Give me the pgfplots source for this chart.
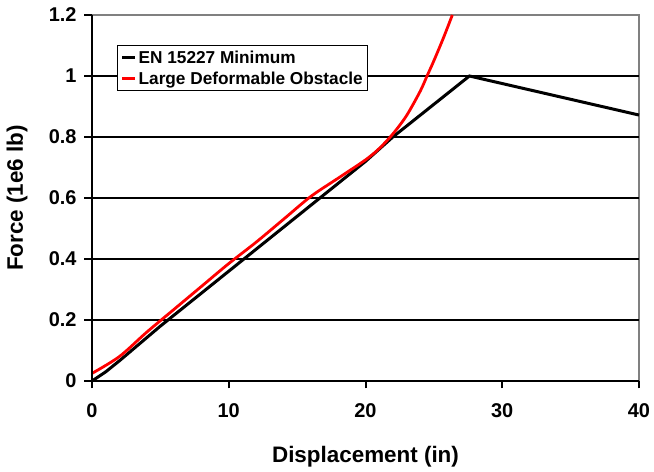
\documentclass[border=0pt]{standalone}
\usepackage{fontspec}
\setmainfont{Liberation Sans}
\usepackage{pgfplots}
\pgfplotsset{compat=1.18}
\begin{document}
\begin{tikzpicture}
\begin{axis}[
  scale only axis,
  width=547bp, height=366bp,
  xmin=0, xmax=40, ymin=0, ymax=1.2,
  xtick={0,10,20,30,40},
  ytick={0,0.2,0.4,0.6,0.8,1,1.2},
  yticklabels={0,0.2,0.4,0.6,0.8,1,1.2},
  xtick pos=bottom, ytick pos=left,
  major tick length=0pt,
  tick style={draw=none},
  axis line style={draw=gray, line width=1.3bp},
  /pgf/number format/assume math mode=true,
  ticklabel style={font=\bfseries\fontsize{20}{20}\selectfont},
  yticklabel style={xshift=-12bp},
  xticklabel style={yshift=-19bp},
  every axis x label/.style={at={(axis description cs:0.5,-0.2077)}, anchor=center},
  every axis y label/.style={at={(axis description cs:-0.1371,0.5)}, anchor=center, rotate=90},
  label style={font=\bfseries\fontsize{22.5}{22.5}\selectfont},
  xlabel={Displacement (in)},
  ylabel={Force (1e6 lb)},
  legend style={at={(axis description cs:0.0457,0.918)}, anchor=north west,
    draw=black, line width=1.3bp, fill=white,
    font=\bfseries\fontsize{17.3}{17.3}\selectfont,
    row sep=3bp, inner xsep=3bp, inner ysep=3bp},
  legend cell align=left,
  legend image code/.code={\draw[#1] (0bp,0bp) -- (13bp,0bp);},
  clip=false,
]
\foreach \g in {0.2,0.4,0.6,0.8,1.0} {
  \edef\tmp{\noexpand\draw[black, line width=1.6bp] (axis cs:0,\g) -- (axis cs:40,\g);}
  \tmp
}
\foreach \g in {0,0.2,0.4,0.6,0.8,1.0,1.2} {
  \edef\tmp{\noexpand\draw[black, line width=2bp] (axis cs:-0.55,\g) -- (axis cs:0,\g);}
  \tmp
}
\foreach \g in {0,10,20,30,40} {
  \edef\tmp{\noexpand\draw[black, line width=2bp] (axis cs:\g,-0.024) -- (axis cs:\g,0);}
  \tmp
}
\addplot[black, line width=3bp] coordinates {
 (0,0) (1,0.03) (2,0.066) (5,0.18) (10,0.36) (15,0.54) (20,0.72) (22,0.80) (27.6,1.0) (40,0.872)
};
\addlegendentry{EN 15227 Minimum}
\addplot[red, line width=2.8bp, smooth] coordinates {
 (0,0.025) (2,0.08) (4,0.16) (6,0.235) (8,0.31) (10,0.385) (12,0.455) (14,0.53) (16,0.605) (18,0.665) (20,0.725) (21,0.762) (22,0.81) (23,0.87) (24,0.95) (24.5,1.0) (25,1.05) (25.7,1.125) (26.35,1.2)
};
\addlegendentry{Large Deformable Obstacle}
\draw[black, line width=2bp] (rel axis cs:0,1) -- (rel axis cs:0,0) -- (rel axis cs:1,0);
\coordinate (SW) at (rel axis cs:0,0);
\coordinate (NE) at (rel axis cs:1,1);
\end{axis}
\pgfresetboundingbox
\path ([shift={(-92bp,-91bp)}]SW) rectangle ([shift={(15bp,15bp)}]NE);
\end{tikzpicture}
\end{document}
